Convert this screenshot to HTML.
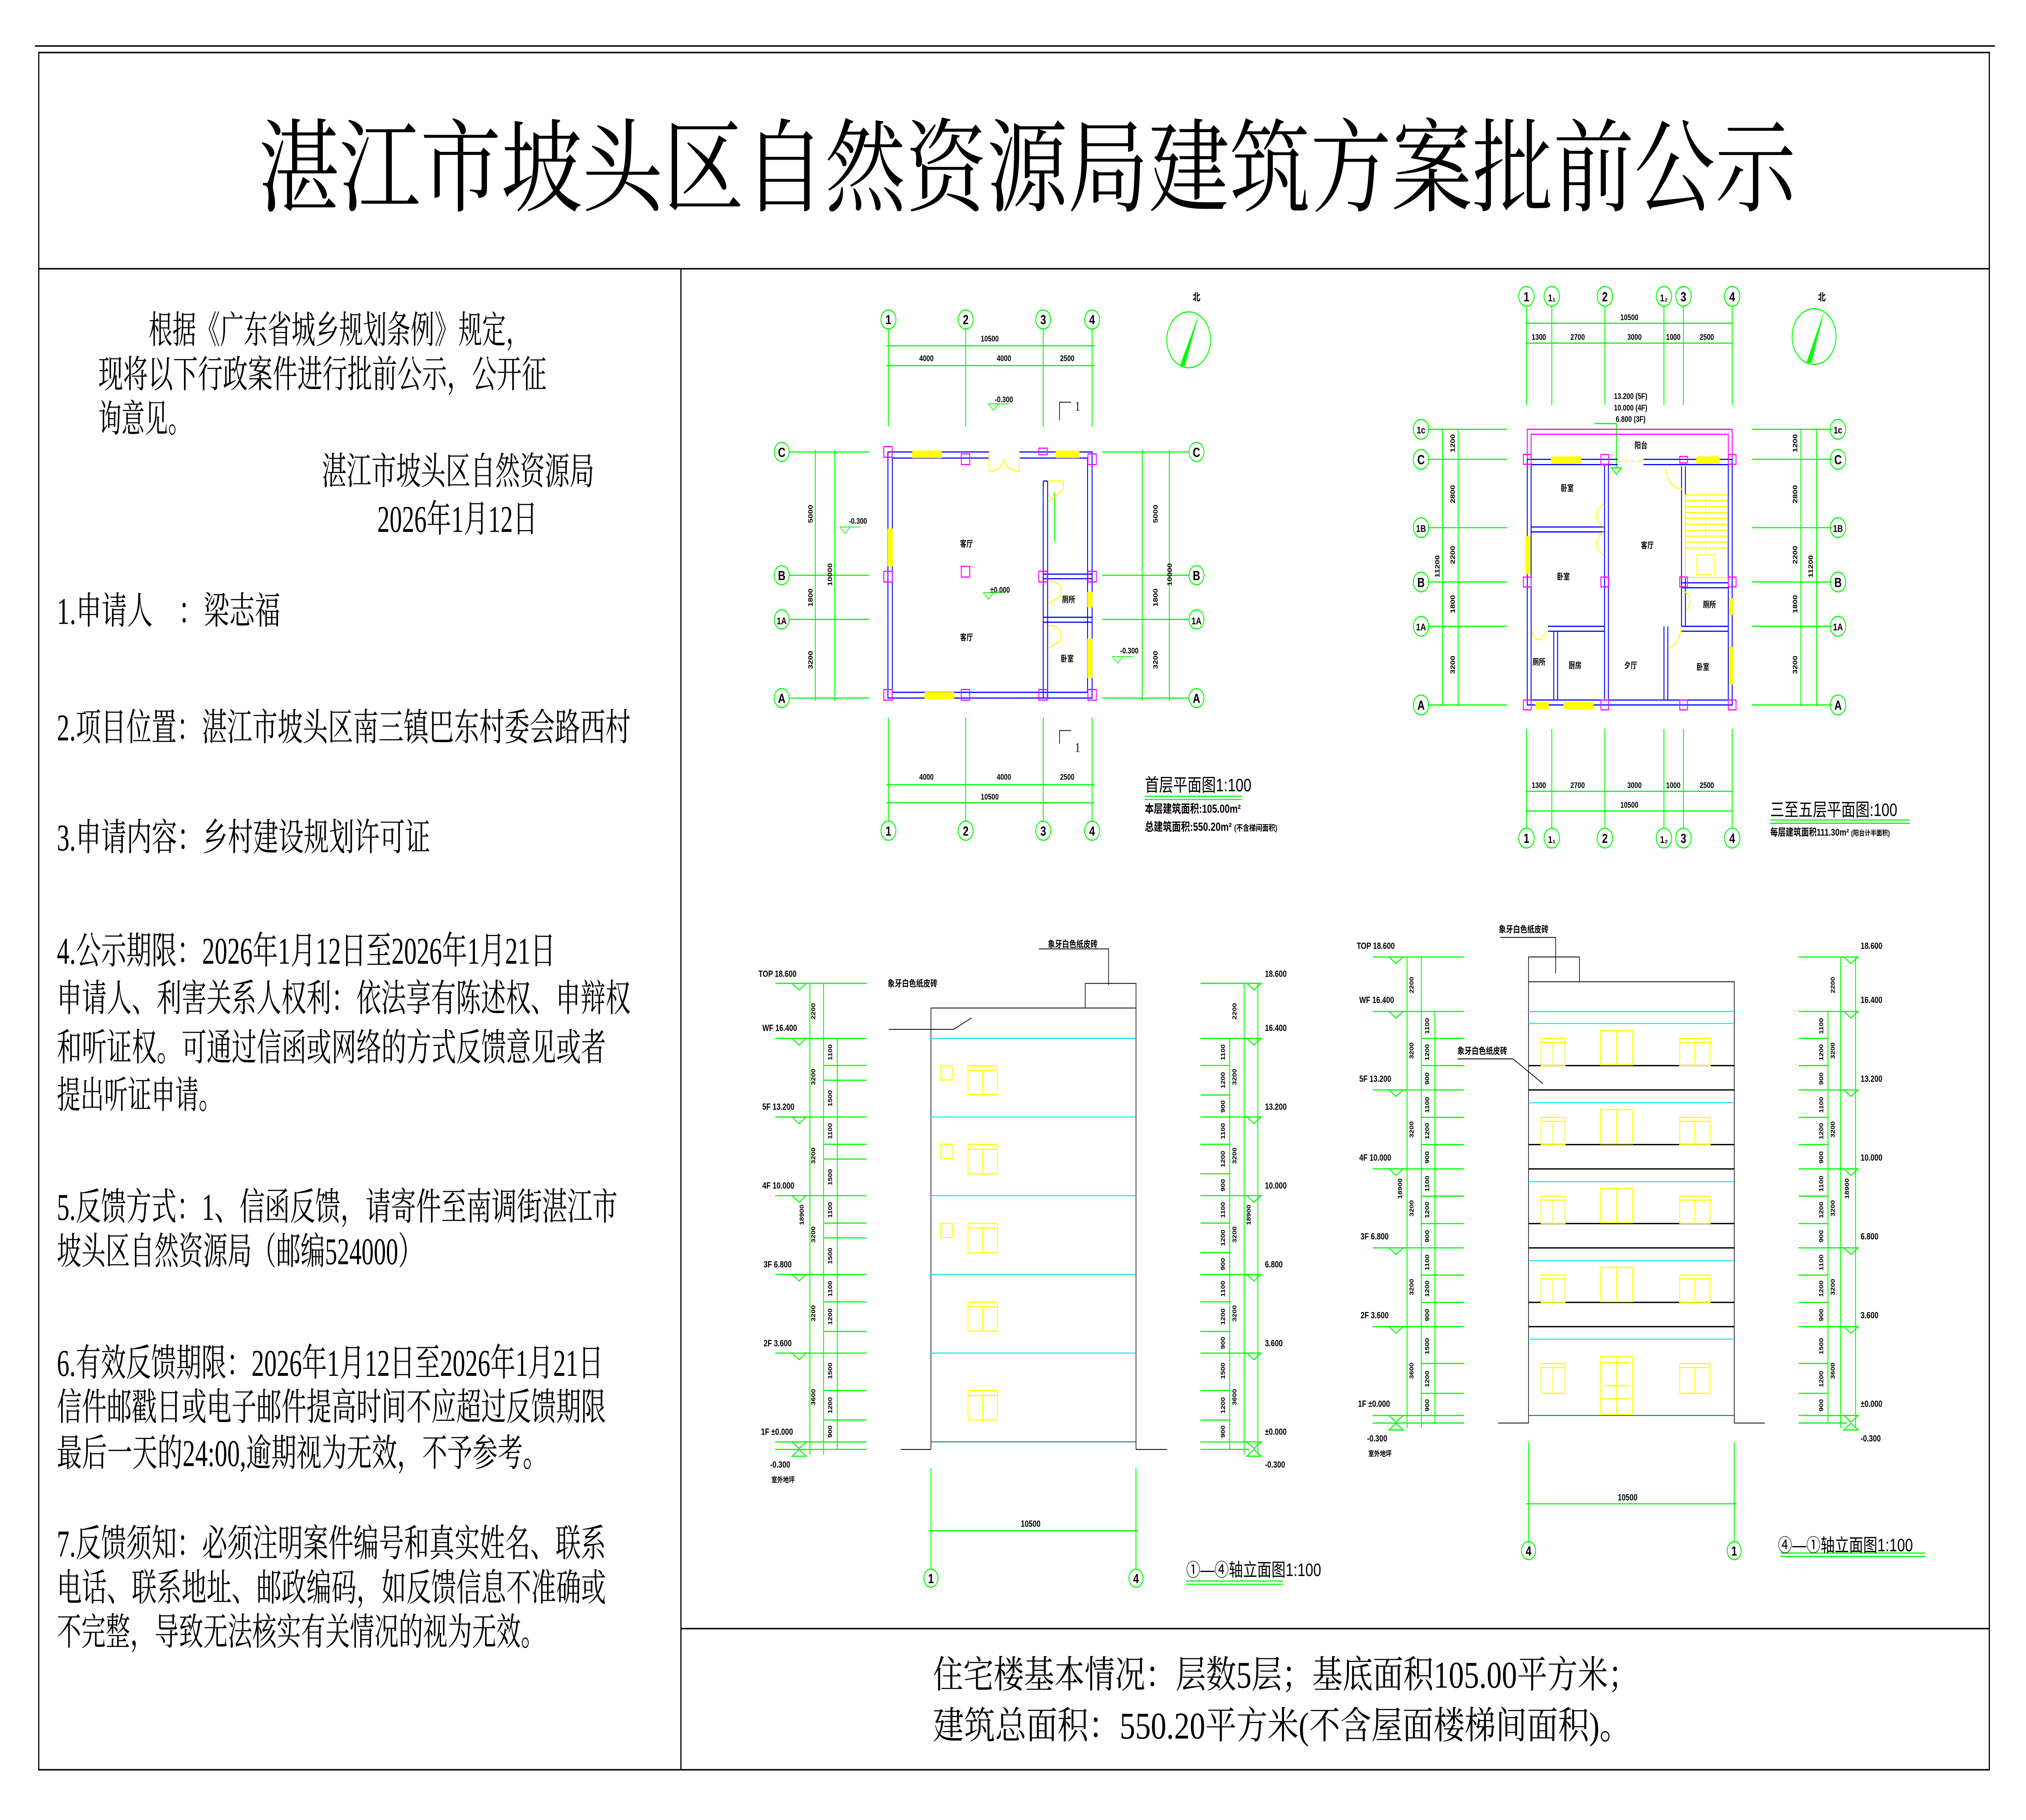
<!DOCTYPE html>
<html><head><meta charset="utf-8"><style>
html,body{margin:0;padding:0;background:#fff;width:100%;height:100%;overflow:hidden}
svg{display:block;width:100vw;height:100vh}
.s{font-family:"Liberation Serif","Noto Serif CJK SC",serif}
.h{font-family:"Liberation Sans","Noto Sans CJK SC",sans-serif}
.g{stroke:#00ff00;fill:none;stroke-width:0.7}
.b{stroke:#0000ff;fill:none;stroke-width:0.7}
.m{stroke:#ff00ff;fill:none;stroke-width:0.7}
.y{stroke:#ffff00;fill:none;stroke-width:0.7}
.yf{fill:#ffff00;stroke:none}
.c{stroke:#00e5ff;fill:none;stroke-width:0.6}
.k{stroke:#000;fill:none;stroke-width:0.5}
.t{font-family:"Liberation Sans","Noto Sans CJK SC",sans-serif;fill:#000;font-weight:bold}
</style></head><body>
<svg viewBox="0 0 1568 1108.6" preserveAspectRatio="none" xmlns="http://www.w3.org/2000/svg">
<rect x="0" y="0" width="1568" height="1109" fill="#fff"/>
<!-- frame -->
<line x1="27" y1="28" x2="1544" y2="28" stroke="#000" stroke-width="0.9"/>
<rect x="30" y="32" width="1509.6" height="1046" fill="none" stroke="#000" stroke-width="0.9"/>
<line x1="30" y1="163.7" x2="1539.6" y2="163.7" stroke="#000" stroke-width="0.9"/>
<line x1="527" y1="163.7" x2="527" y2="1078" stroke="#000" stroke-width="0.9"/>
<line x1="527" y1="992" x2="1539.6" y2="992" stroke="#000" stroke-width="0.9"/>

<!-- title -->
<text class="s" x="200" y="124" font-size="62" textLength="1190" lengthAdjust="spacingAndGlyphs">湛江市坡头区自然资源局建筑方案批前公示</text>

<!-- left text -->
<g class="s" font-size="23" fill="#000">
<text x="115" y="209" textLength="295" lengthAdjust="spacingAndGlyphs">根据《广东省城乡规划条例》规定，</text>
<text x="76" y="236" textLength="347" lengthAdjust="spacingAndGlyphs">现将以下行政案件进行批前公示，公开征</text>
<text x="76" y="263" textLength="72" lengthAdjust="spacingAndGlyphs">询意见。</text>
<text x="249" y="295" textLength="211" lengthAdjust="spacingAndGlyphs">湛江市坡头区自然资源局</text>
<text x="292" y="324" textLength="124" lengthAdjust="spacingAndGlyphs">2026年1月12日</text>
<text x="44" y="380" textLength="173" lengthAdjust="spacingAndGlyphs">1.申请人　：梁志福</text>
<text x="44" y="451" textLength="444" lengthAdjust="spacingAndGlyphs">2.项目位置：湛江市坡头区南三镇巴东村委会路西村</text>
<text x="44" y="518" textLength="289" lengthAdjust="spacingAndGlyphs">3.申请内容：乡村建设规划许可证</text>
<text x="44" y="587" textLength="386" lengthAdjust="spacingAndGlyphs">4.公示期限：2026年1月12日至2026年1月21日</text>
<text x="44" y="616" textLength="444" lengthAdjust="spacingAndGlyphs">申请人、利害关系人权利：依法享有陈述权、申辩权</text>
<text x="44" y="646" textLength="425" lengthAdjust="spacingAndGlyphs">和听证权。可通过信函或网络的方式反馈意见或者</text>
<text x="44" y="675" textLength="128" lengthAdjust="spacingAndGlyphs">提出听证申请。</text>
<text x="44" y="743" textLength="434" lengthAdjust="spacingAndGlyphs">5.反馈方式：1、信函反馈，请寄件至南调街湛江市</text>
<text x="44" y="770" textLength="283" lengthAdjust="spacingAndGlyphs">坡头区自然资源局（邮编524000）</text>
<text x="44" y="838" textLength="423" lengthAdjust="spacingAndGlyphs">6.有效反馈期限：2026年1月12日至2026年1月21日</text>
<text x="44" y="865" textLength="425" lengthAdjust="spacingAndGlyphs">信件邮戳日或电子邮件提高时间不应超过反馈期限</text>
<text x="44" y="893" textLength="380" lengthAdjust="spacingAndGlyphs">最后一天的24:00,逾期视为无效，不予参考。</text>
<text x="44" y="948" textLength="425" lengthAdjust="spacingAndGlyphs">7.反馈须知：必须注明案件编号和真实姓名、联系</text>
<text x="44" y="975" textLength="425" lengthAdjust="spacingAndGlyphs">电话、联系地址、邮政编码，如反馈信息不准确或</text>
<text x="44" y="1002" textLength="378" lengthAdjust="spacingAndGlyphs">不完整，导致无法核实有关情况的视为无效。</text>
</g>
<g class="s" font-size="23" fill="#000">
<text x="722" y="1028" textLength="546" lengthAdjust="spacingAndGlyphs">住宅楼基本情况：层数5层；基底面积105.00平方米；</text>
<text x="722" y="1059" textLength="540" lengthAdjust="spacingAndGlyphs">建筑总面积：550.20平方米(不含屋面楼梯间面积)。</text>
</g>

<!-- ============ PLAN 1 ============ -->
<g class="g">
 <line x1="687.6" y1="200" x2="687.6" y2="260"/><line x1="747.4" y1="200" x2="747.4" y2="260"/>
 <line x1="807.4" y1="200" x2="807.4" y2="260"/><line x1="845.2" y1="200" x2="845.2" y2="260"/>
 <line x1="686" y1="210.6" x2="847" y2="210.6"/><line x1="686" y1="222.7" x2="847" y2="222.7"/>
 <circle cx="687.6" cy="194.6" r="5.8"/><circle cx="747.4" cy="194.6" r="5.8"/><circle cx="807.4" cy="194.6" r="5.8"/><circle cx="845.2" cy="194.6" r="5.8"/>
 <line x1="687.6" y1="437" x2="687.6" y2="500"/><line x1="747.4" y1="437" x2="747.4" y2="500"/>
 <line x1="807.4" y1="437" x2="807.4" y2="500"/><line x1="845.2" y1="437" x2="845.2" y2="500"/>
 <line x1="686" y1="478" x2="847" y2="478"/><line x1="686" y1="489" x2="847" y2="489"/>
 <circle cx="687.6" cy="506" r="5.8"/><circle cx="747.4" cy="506" r="5.8"/><circle cx="807.4" cy="506" r="5.8"/><circle cx="845.2" cy="506" r="5.8"/>
 <line x1="611" y1="275.3" x2="672.6" y2="275.3"/><line x1="611" y1="350.4" x2="672.6" y2="350.4"/>
 <line x1="611" y1="377.3" x2="672.6" y2="377.3"/><line x1="611" y1="425.2" x2="672.6" y2="425.2"/>
 <line x1="631" y1="274" x2="631" y2="427"/><line x1="646" y1="274" x2="646" y2="427"/>
 <circle cx="605" cy="275.3" r="5.8"/><circle cx="605" cy="350.4" r="5.8"/><circle cx="605" cy="377.3" r="5.8"/><circle cx="605" cy="425.2" r="5.8"/>
 <line x1="853" y1="275.3" x2="920" y2="275.3"/><line x1="853" y1="350.4" x2="920" y2="350.4"/>
 <line x1="853" y1="377.3" x2="920" y2="377.3"/><line x1="853" y1="425.2" x2="920" y2="425.2"/>
 <line x1="884" y1="274" x2="884" y2="427"/><line x1="905" y1="274" x2="905" y2="427"/>
 <circle cx="926" cy="275.3" r="5.8"/><circle cx="926" cy="350.4" r="5.8"/><circle cx="926" cy="377.3" r="5.8"/><circle cx="926" cy="425.2" r="5.8"/>
 <line x1="816" y1="300" x2="816" y2="330"/>
</g>
<g class="t" font-size="8" text-anchor="middle" font-weight="normal">
 <text x="687.6" y="197.5">1</text><text x="747.4" y="197.5">2</text><text x="807.4" y="197.5">3</text><text x="845.2" y="197.5">4</text>
 <text x="687.6" y="509">1</text><text x="747.4" y="509">2</text><text x="807.4" y="509">3</text><text x="845.2" y="509">4</text>
 <text x="605" y="278.3">C</text><text x="605" y="353.4">B</text><text x="605" y="380.3" font-size="6">1A</text><text x="605" y="428.2">A</text>
 <text x="926" y="278.3">C</text><text x="926" y="353.4">B</text><text x="926" y="380.3" font-size="6">1A</text><text x="926" y="428.2">A</text>
</g>
<g class="t" font-size="5" text-anchor="middle">
 <text x="766" y="208">10500</text><text x="717" y="220">4000</text><text x="777" y="220">4000</text><text x="826" y="220">2500</text>
 <text x="717" y="475">4000</text><text x="777" y="475">4000</text><text x="826" y="475">2500</text><text x="766" y="487">10500</text>
 <text x="748" y="333">客厅</text><text x="748" y="390">客厅</text><text x="827" y="367">厕所</text><text x="826" y="403">卧室</text>
 <text x="774" y="361">±0.000</text><text x="777" y="245">-0.300</text><text x="664" y="319">-0.300</text><text x="874" y="398">-0.300</text>
</g>
<g class="t" font-size="5" text-anchor="middle">
 <text transform="translate(629,313) rotate(-90)">5000</text><text transform="translate(629,364) rotate(-90)">1800</text><text transform="translate(629,402) rotate(-90)">3200</text><text transform="translate(644,350) rotate(-90)">10000</text>
 <text transform="translate(896,313) rotate(-90)">5000</text><text transform="translate(896,364) rotate(-90)">1800</text><text transform="translate(896,402) rotate(-90)">3200</text><text transform="translate(907,350) rotate(-90)">10000</text>
</g>
<g class="k" stroke-width="0.6">
 <path d="M765,246 L773,246 L769,250 Z M769,246 L781,246" stroke="#00ff00"/>
 <path d="M650,321 L658,321 L654,325 Z M654,321 L666,321" stroke="#00ff00"/>
 <path d="M861,400 L869,400 L865,404 Z M865,400 L877,400" stroke="#00ff00"/>
 <path d="M761,361 L769,361 L765,365 Z M765,361 L777,361" stroke="#00ff00"/>
 <path d="M820,256 L820,245 L829,245"/><path d="M820,453 L820,445 L829,445"/>
</g>
<text class="s" x="832" y="250" font-size="8">1</text><text class="s" x="832" y="458" font-size="8">1</text>
<g class="b">
 <path d="M765.5,275.3 L687.2,275.3 L687.2,425.2 L845.2,425.2 L845.2,275.3 L789,275.3"/>
 <path d="M765.5,279 L690.6,279 L690.6,421.7 L841.7,421.7 L841.7,279 L789,279"/>
 <path d="M807.4,293 L807.4,425 M810.8,293 L810.8,425 M807.4,293 L810.8,293"/>
 <path d="M807.4,349.7 L845,349.7 M807.4,352.5 L845,352.5 M807.4,376 L845,376 M807.4,379 L845,379"/>
</g>
<g class="yf">
 <rect x="706" y="274.5" width="23" height="4.5"/><rect x="817" y="274.5" width="18.5" height="4.5"/>
 <rect x="687" y="322" width="4" height="23"/><rect x="715.5" y="421.5" width="23" height="4.5"/>
 <rect x="841.5" y="360.5" width="4" height="9.5"/><rect x="841.5" y="389" width="4" height="24"/>
</g>
<g class="y">
 <path d="M765.5,276 L765.5,287 Q775,287 777,280 Q779,287 789,287 L789,276"/>
 <path d="M811,354 Q823,354 821,363 L811,368"/><path d="M811,381 Q823,381 821,390 L811,395"/>
 <path d="M811,293 L823,293 L823,298 L811,306"/>
</g>
<g class="m" fill="#fff">
 <rect x="684" y="272" width="6.5" height="6.5"/><rect x="744" y="276.5" width="6.5" height="6.5"/><rect x="804" y="273" width="6.5" height="4"/><rect x="842" y="276.5" width="6.5" height="6.5"/>
 <rect x="684" y="348" width="6.5" height="6.5"/><rect x="744" y="345" width="6.5" height="6.5"/><rect x="804" y="348" width="6.5" height="6.5"/><rect x="842" y="348" width="6.5" height="6.5"/>
 <rect x="684" y="420" width="6.5" height="6.5"/><rect x="744" y="420" width="6.5" height="6.5"/><rect x="804" y="420" width="6.5" height="6.5"/><rect x="842" y="420" width="6.5" height="6.5"/>
</g>
<circle cx="920" cy="207" r="17" class="g" stroke-width="1"/>
<path d="M928,191 L913,223 L917,223 Z" fill="#00ff00"/>
<text class="t" x="926" y="183" font-size="6" text-anchor="middle">北</text>
<text class="h" x="886" y="482" font-size="11">首层平面图1:100</text>
<line x1="886" y1="485" x2="961" y2="485" class="g"/><line x1="886" y1="487" x2="961" y2="487" class="g"/>
<text class="t" x="886" y="495" font-size="7">本层建筑面积:105.00m²</text>
<text class="t" x="886" y="506" font-size="7">总建筑面积:550.20m² <tspan font-size="5">(不含梯间面积)</tspan></text>

<!-- ============ PLAN 2 ============ -->
<g class="g">
 <path d="M1181.4,186.5 V246.7 M1201,186.5 V246.7 M1242.1,186.5 V246.7 M1287.8,186.5 V246.7 M1302.9,186.5 V246.7 M1340.6,186.5 V246.7"/>
 <path d="M1181,196.9 H1341 M1181,209 H1341"/>
 <path d="M1181.4,444 V504.5 M1201,444 V504.5 M1242.1,444 V504.5 M1287.8,444 V504.5 M1302.9,444 V504.5 M1340.6,444 V504.5"/>
 <path d="M1181,482 H1341 M1181,494 H1341"/>
 <circle cx="1181.4" cy="180.5" r="6"/><circle cx="1201" cy="180.5" r="6"/><circle cx="1242.1" cy="180.5" r="6"/><circle cx="1287.8" cy="180.5" r="6"/><circle cx="1302.9" cy="180.5" r="6"/><circle cx="1340.6" cy="180.5" r="6"/>
 <circle cx="1181.4" cy="510.5" r="6"/><circle cx="1201" cy="510.5" r="6"/><circle cx="1242.1" cy="510.5" r="6"/><circle cx="1287.8" cy="510.5" r="6"/><circle cx="1302.9" cy="510.5" r="6"/><circle cx="1340.6" cy="510.5" r="6"/>
 <path d="M1105,261.5 H1166.3 M1105,279.8 H1166.3 M1105,321.4 H1166.3 M1105,354.5 H1166.3 M1105,381.5 H1166.3 M1105,429.4 H1166.3"/>
 <path d="M1116.4,261 V430 M1128.5,261 V430"/>
 <path d="M1355.8,261.5 H1418 M1355.8,279.8 H1418 M1355.8,321.4 H1418 M1355.8,354.5 H1418 M1355.8,381.5 H1418 M1355.8,429.4 H1418"/>
 <path d="M1393.8,261 V430 M1405.9,261 V430"/>
 <circle cx="1099.8" cy="261.5" r="6"/><circle cx="1099.8" cy="279.8" r="6"/><circle cx="1099.8" cy="321.4" r="6"/><circle cx="1099.8" cy="354.5" r="6"/><circle cx="1099.8" cy="381.5" r="6"/><circle cx="1099.8" cy="429.4" r="6"/>
 <circle cx="1422.5" cy="261.5" r="6"/><circle cx="1422.5" cy="279.8" r="6"/><circle cx="1422.5" cy="321.4" r="6"/><circle cx="1422.5" cy="354.5" r="6"/><circle cx="1422.5" cy="381.5" r="6"/><circle cx="1422.5" cy="429.4" r="6"/>
 <path d="M1234,258 H1251 M1251,258 V285 M1247,285 L1251,289 L1255,285 Z"/>
</g>
<g class="t" font-size="8" text-anchor="middle" font-weight="normal">
 <text x="1181.4" y="183.5">1</text><text x="1201" y="183.5" font-size="6">1₁</text><text x="1242.1" y="183.5">2</text><text x="1287.8" y="183.5" font-size="6">1₂</text><text x="1302.9" y="183.5">3</text><text x="1340.6" y="183.5">4</text>
 <text x="1181.4" y="513.5">1</text><text x="1201" y="513.5" font-size="6">1₁</text><text x="1242.1" y="513.5">2</text><text x="1287.8" y="513.5" font-size="6">1₂</text><text x="1302.9" y="513.5">3</text><text x="1340.6" y="513.5">4</text>
 <text x="1099.8" y="264" font-size="6">1c</text><text x="1099.8" y="282.8">C</text><text x="1099.8" y="324" font-size="6">1B</text><text x="1099.8" y="357.5">B</text><text x="1099.8" y="384" font-size="6">1A</text><text x="1099.8" y="432.4">A</text>
 <text x="1422.5" y="264" font-size="6">1c</text><text x="1422.5" y="282.8">C</text><text x="1422.5" y="324" font-size="6">1B</text><text x="1422.5" y="357.5">B</text><text x="1422.5" y="384" font-size="6">1A</text><text x="1422.5" y="432.4">A</text>
</g>
<g class="t" font-size="5" text-anchor="middle">
 <text x="1261" y="195">10500</text>
 <text x="1191" y="207">1300</text><text x="1221" y="207">2700</text><text x="1265" y="207">3000</text><text x="1295" y="207">1000</text><text x="1321" y="207">2500</text>
 <text x="1191" y="480">1300</text><text x="1221" y="480">2700</text><text x="1265" y="480">3000</text><text x="1295" y="480">1000</text><text x="1321" y="480">2500</text>
 <text x="1261" y="492">10500</text>
 <text x="1262" y="243">13.200 (5F)</text><text x="1262" y="250">10.000 (4F)</text><text x="1262" y="257">6.800 (3F)</text>
 <text x="1270" y="273">阳台</text><text x="1213" y="299">卧室</text><text x="1275" y="334">客厅</text><text x="1210" y="353">卧室</text>
 <text x="1323" y="370">厕所</text><text x="1191" y="405">厕所</text><text x="1219" y="407">厨房</text><text x="1262" y="407">夕厅</text><text x="1318" y="408">卧室</text>
 <text transform="translate(1126,270) rotate(-90)">1200</text><text transform="translate(1126,301) rotate(-90)">2800</text><text transform="translate(1126,338) rotate(-90)">2200</text><text transform="translate(1126,368) rotate(-90)">1800</text><text transform="translate(1126,405) rotate(-90)">3200</text><text transform="translate(1114,345) rotate(-90)">11200</text>
 <text transform="translate(1391,270) rotate(-90)">1200</text><text transform="translate(1391,301) rotate(-90)">2800</text><text transform="translate(1391,338) rotate(-90)">2200</text><text transform="translate(1391,368) rotate(-90)">1800</text><text transform="translate(1391,405) rotate(-90)">3200</text><text transform="translate(1403,345) rotate(-90)">11200</text>
</g>
<g class="m">
 <path d="M1182,279.8 V261.5 H1340.6 V279.8 M1185,279.8 V264.5 H1337.6 V279.8"/>
</g>
<g class="b">
 <path d="M1252,279.8 H1182 V429.4 H1340.6 V279.8 H1272"/>
 <path d="M1252,283 H1185 V426.4 H1337.6 V283 H1272"/>
 <path d="M1241.8,283 V426 M1244.8,283 V426"/>
 <path d="M1185,321 H1241.8 M1185,324 H1241.8"/>
 <path d="M1198,381.5 H1241.8 M1198,384.5 H1241.8 M1202.5,384.5 V426 M1205.5,384.5 V426"/>
 <path d="M1287.8,381.5 V426 M1290.8,381.5 V426"/>
 <path d="M1301.4,284 V381.5 M1304.4,284 V381.5 M1301.4,355 H1337.6 M1301.4,358 H1337.6 M1301.4,381.5 H1337.6 M1301.4,384.5 H1337.6"/>
</g>
<g class="yf">
 <rect x="1200.4" y="278" width="23.3" height="4.5"/><rect x="1312.8" y="278" width="18.2" height="4.5"/>
 <rect x="1180.5" y="326.6" width="4" height="23"/><rect x="1188.3" y="427.5" width="10.3" height="4.5"/><rect x="1210" y="427.5" width="23.4" height="4.5"/>
 <rect x="1338" y="364.3" width="4" height="10.3"/><rect x="1338" y="394" width="4" height="23"/>
</g>
<g class="y">
 <rect x="1304.4" y="301.5" width="32.6" height="50.3"/>
 <path d="M1304.4,305 H1337 M1304.4,308.6 H1337 M1304.4,312.2 H1337 M1304.4,315.8 H1337 M1304.4,319.4 H1337 M1304.4,323 H1337 M1304.4,326.6 H1337 M1304.4,330.2 H1337 M1304.4,333.8 H1337"/>
 <path d="M1320,301 V338 M1313,338 H1327 V350 H1313 Z" stroke-width="0.5"/>
 <path d="M1252,281 H1272" stroke-dasharray="3 2"/>
 <path d="M1289,284 Q1290,297 1302,298"/>
 <path d="M1241,307 Q1230,314 1241,321 M1241,324 Q1230,331 1241,338"/>
 <path d="M1186,385 Q1190,395 1197,384"/>
 <path d="M1291,395 Q1300,392 1301,383"/>
 <path d="M1302,360 Q1311,362 1306,372"/>
</g>
<g class="m" fill="#fff">
 <rect x="1179" y="276.8" width="6" height="6"/><rect x="1239" y="276.8" width="6" height="6"/><rect x="1300" y="278" width="6" height="4"/><rect x="1337.6" y="276.8" width="6" height="6"/>
 <rect x="1179" y="351.5" width="6" height="6"/><rect x="1239" y="351.5" width="6" height="6"/><rect x="1300" y="351.5" width="6" height="6"/><rect x="1337.6" y="351.5" width="6" height="6"/>
 <rect x="1179" y="426.4" width="6" height="6"/><rect x="1239" y="426.4" width="6" height="6"/><rect x="1300" y="426.4" width="6" height="6"/><rect x="1337.6" y="426.4" width="6" height="6"/>
</g>
<circle cx="1404" cy="205" r="17" class="g" stroke-width="1"/>
<path d="M1412,189 L1398,221 L1402,221 Z" fill="#00ff00"/>
<text class="t" x="1410" y="183" font-size="6" text-anchor="middle">北</text>
<text class="h" x="1370" y="497" font-size="11">三至五层平面图:100</text>
<line x1="1370" y1="499.5" x2="1478" y2="499.5" class="g"/><line x1="1370" y1="501.5" x2="1478" y2="501.5" class="g"/>
<text class="t" x="1370" y="509" font-size="6">每层建筑面积111.30m² <tspan font-size="4.5">(阳台计半面积)</tspan></text>

<!-- ============ ELEVATION 1 ============ -->
<g class="k" stroke-width="0.6">
 <path d="M720.5,882.9 V614 H879.2 V882.9 M839.9,614 V599 H879.2 V614"/>
 <path d="M697.2,882.9 H720.5 M879.2,882.9 H903.3"/>
 <path d="M688,627 H738 L752,620"/><path d="M804,578 H858 V600"/>
</g>
<g class="c"><path d="M720.5,632.5 H879.2 M720.5,680.4 H879.2 M720.5,728.3 H879.2 M720.5,776.3 H879.2 M720.5,824.2 H879.2"/></g>
<line x1="720.5" y1="878.3" x2="879.2" y2="878.3" stroke="#066" stroke-width="0.5"/>
<g class="y" stroke-width="1.2">
 <rect x="749.2" y="649.3" width="22.7" height="17.4"/><rect x="749.2" y="697" width="22.7" height="18"/><rect x="749.2" y="745.2" width="22.7" height="17.9"/><rect x="749.2" y="793.1" width="22.7" height="17.7"/><rect x="749.2" y="847" width="22.7" height="17.9"/>
 <path d="M760.5,652 V666.7 M749.2,652 H771.9 M760.5,700 V715 M749.2,700 H771.9 M760.5,748 V763 M749.2,748 H771.9 M760.5,796 V810.8 M749.2,796 H771.9 M760.5,850 V864.9 M749.2,850 H771.9"/>
 <rect x="728" y="649.3" width="9" height="8.6"/><rect x="728" y="697" width="9" height="8.6"/><rect x="728" y="745.2" width="9" height="8.6"/>
</g>
<g class="g">
 <path d="M600,599 H670.6 M600,632.5 H670.6 M600,680.4 H670.6 M600,728.3 H670.6 M600,776.3 H670.6 M600,824.2 H670.6 M600,878.3 H670.6 M600,882.9 H670.6"/>
 <path d="M637,649 H670.6 M637,658 H670.6 M637,697 H670.6 M637,706 H670.6 M637,745 H670.6 M637,754 H670.6 M637,793 H670.6 M637,811 H670.6 M637,847 H670.6 M637,865 H670.6"/>
 <path d="M626.8,599 V886 M637.4,599 V886 M648,632.5 V883"/>
 <path d="M929,599 H966.8 M929,632.5 H966.8 M929,680.4 H966.8 M929,728.3 H966.8 M929,776.3 H966.8 M929,824.2 H966.8 M929,878.3 H966.8 M929,882.9 H966.8"/>
 <path d="M929,649 H951.7 M929,667 H951.7 M929,697 H951.7 M929,715 H951.7 M929,745 H951.7 M929,763 H951.7 M929,793 H951.7 M929,811 H951.7 M929,847 H951.7 M929,865 H951.7"/>
 <path d="M951.7,632.5 V883 M962.9,599 V886 M973.5,599 V886"/>
 <path d="M720.5,894.4 V956 M879.2,894.4 V956 M719,932.4 H881"/>
 <circle cx="720.5" cy="961.3" r="5.5"/><circle cx="879.2" cy="961.3" r="5.5"/>
 <path d="M613,599 L624,599 L618.5,603 Z M613,632.5 L624,632.5 L618.5,636.5 Z M613,680.4 L624,680.4 L618.5,684.4 Z M613,728.3 L624,728.3 L618.5,732.3 Z M613,776.3 L624,776.3 L618.5,780.3 Z M613,824.2 L624,824.2 L618.5,828.2 Z M613,878.3 L624,878.3 L618.5,882.3 Z M613,887 L624,887 L618.5,883 Z"/>
 <path d="M965,599 L976,599 L970.5,603 Z M965,632.5 L976,632.5 L970.5,636.5 Z M965,680.4 L976,680.4 L970.5,684.4 Z M965,728.3 L976,728.3 L970.5,732.3 Z M965,776.3 L976,776.3 L970.5,780.3 Z M965,824.2 L976,824.2 L970.5,828.2 Z M965,878.3 L976,878.3 L970.5,882.3 Z M965,887 L976,887 L970.5,883 Z"/>
 <path d="M918,963 H993 M918,965 H993"/>
</g>
<g class="t" font-size="5.5" font-weight="normal">
 <text x="587" y="595">TOP 18.600</text><text x="590" y="628">WF 16.400</text><text x="590" y="676">5F 13.200</text><text x="590" y="724">4F 10.000</text><text x="591" y="772">3F 6.800</text><text x="591" y="820">2F 3.600</text><text x="589" y="874">1F ±0.000</text><text x="596" y="894">-0.300</text><text x="597" y="903" font-size="4.5">室外地坪</text>
 <text x="979" y="595">18.600</text><text x="979" y="628">16.400</text><text x="979" y="676">13.200</text><text x="979" y="724">10.000</text><text x="979" y="772">6.800</text><text x="979" y="820">3.600</text><text x="979" y="874">±0.000</text><text x="979" y="894">-0.300</text>
 <text x="790" y="930">10500</text>
 <text x="687" y="601" font-weight="bold">象牙白色纸皮砖</text><text x="811" y="577" font-weight="bold">象牙白色纸皮砖</text>
</g>
<g class="t" font-size="4.5" font-weight="normal" text-anchor="middle">
 <text transform="translate(631,616) rotate(-90)">2200</text><text transform="translate(631,656) rotate(-90)">3200</text><text transform="translate(631,704) rotate(-90)">3200</text><text transform="translate(631,752) rotate(-90)">3200</text><text transform="translate(631,800) rotate(-90)">3200</text><text transform="translate(631,851) rotate(-90)">3600</text><text transform="translate(622,740) rotate(-90)">18900</text>
 <text transform="translate(957,616) rotate(-90)">2200</text><text transform="translate(957,656) rotate(-90)">3200</text><text transform="translate(957,704) rotate(-90)">3200</text><text transform="translate(957,752) rotate(-90)">3200</text><text transform="translate(957,800) rotate(-90)">3200</text><text transform="translate(957,851) rotate(-90)">3600</text><text transform="translate(968,740) rotate(-90)">18900</text>
 <text transform="translate(644,641) rotate(-90)">1100</text><text transform="translate(644,669) rotate(-90)">1500</text><text transform="translate(644,689) rotate(-90)">1100</text><text transform="translate(644,717) rotate(-90)">1500</text><text transform="translate(644,737) rotate(-90)">1100</text><text transform="translate(644,765) rotate(-90)">1500</text><text transform="translate(644,785) rotate(-90)">1100</text><text transform="translate(644,802) rotate(-90)">1200</text><text transform="translate(644,835) rotate(-90)">1500</text><text transform="translate(644,856) rotate(-90)">1200</text><text transform="translate(644,872) rotate(-90)">900</text>
 <text transform="translate(948,641) rotate(-90)">1100</text><text transform="translate(948,658) rotate(-90)">1200</text><text transform="translate(948,674) rotate(-90)">900</text><text transform="translate(948,689) rotate(-90)">1100</text><text transform="translate(948,706) rotate(-90)">1200</text><text transform="translate(948,722) rotate(-90)">900</text><text transform="translate(948,737) rotate(-90)">1100</text><text transform="translate(948,754) rotate(-90)">1200</text><text transform="translate(948,770) rotate(-90)">900</text><text transform="translate(948,785) rotate(-90)">1100</text><text transform="translate(948,802) rotate(-90)">1200</text><text transform="translate(948,818) rotate(-90)">900</text><text transform="translate(948,835) rotate(-90)">1500</text><text transform="translate(948,856) rotate(-90)">1200</text><text transform="translate(948,872) rotate(-90)">900</text>
</g>
<g class="t" font-size="8" text-anchor="middle" font-weight="normal"><text x="720.5" y="964.3">1</text><text x="879.2" y="964.3">4</text></g>
<text class="h" x="918" y="960" font-size="11">①—④轴立面图1:100</text>

<!-- ============ ELEVATION 2 ============ -->
<g class="k" stroke-width="0.6">
 <path d="M1183,866.8 V598 H1342.2 V866.8 M1183,598 V582.9 H1222.4 V598"/>
 <path d="M1159.5,866.8 H1183 M1342.2,866.8 H1365.7"/>
 <path d="M1161,571 H1204 V593"/><path d="M1128,645 H1171 L1194,660"/>
</g>
<g stroke="#000" stroke-width="0.8">
 <path d="M1183,649.1 H1342.2 M1183,663.9 H1342.2 M1183,697.2 H1342.2 M1183,712 H1342.2 M1183,745.3 H1342.2 M1183,760.1 H1342.2 M1183,793.3 H1342.2 M1183,808.1 H1342.2"/>
</g>
<g class="c"><path d="M1183,616.1 H1342.2 M1183,623.4 H1342.2 M1183,671.7 H1342.2 M1183,719.8 H1342.2 M1183,767.9 H1342.2 M1183,815.7 H1342.2"/></g>
<line x1="1183" y1="862.2" x2="1342.2" y2="862.2" stroke="#066" stroke-width="0.5"/>
<g class="y" stroke-width="1.1">
 <rect x="1192.7" y="632.5" width="18.6" height="16.6"/><rect x="1300" y="632.5" width="23.5" height="16.6"/><rect x="1238.6" y="627.8" width="24.8" height="20.8"/>
 <rect x="1192.7" y="680.6" width="18.6" height="16.6"/><rect x="1300" y="680.6" width="23.5" height="16.6"/><rect x="1238.6" y="675.9" width="24.8" height="20.8"/>
 <rect x="1192.7" y="728.6" width="18.6" height="16.6"/><rect x="1300" y="728.6" width="23.5" height="16.6"/><rect x="1238.6" y="723.9" width="24.8" height="20.8"/>
 <rect x="1192.7" y="776.7" width="18.6" height="16.6"/><rect x="1300" y="776.7" width="23.5" height="16.6"/><rect x="1238.6" y="772" width="24.8" height="20.8"/>
 <rect x="1192.7" y="830.5" width="18.6" height="18.2"/><rect x="1300" y="830.5" width="23.5" height="18.2"/><rect x="1238.6" y="826.3" width="24.8" height="35.3"/>
 <path d="M1202,635 V649 M1192.7,635 H1211.3 M1311.7,635 V649 M1300,635 H1323.5 M1251,628 V648.6"/>
 <path d="M1202,683 V697 M1192.7,683 H1211.3 M1311.7,683 V697 M1300,683 H1323.5 M1251,676 V696.7"/>
 <path d="M1202,731 V745 M1192.7,731 H1211.3 M1311.7,731 V745 M1300,731 H1323.5 M1251,724 V744.7"/>
 <path d="M1202,779 V793 M1192.7,779 H1211.3 M1311.7,779 V793 M1300,779 H1323.5 M1251,772 V792.8"/>
 <path d="M1202,833 V848.7 M1192.7,833 H1211.3 M1311.7,833 V848.7 M1300,833 H1323.5 M1251,826.3 V861.6 M1241,830 H1261 M1241,844 H1261 M1241,852 H1261"/>
</g>
<g class="g">
 <path d="M1062.4,582.9 H1133.1 M1062.4,616.1 H1133.1 M1062.4,663.9 H1133.1 M1062.4,712 H1133.1 M1062.4,760.1 H1133.1 M1062.4,808.1 H1133.1 M1062.4,862.2 H1133.1 M1062.4,866.8 H1133.1"/>
 <path d="M1100,632.5 H1133.1 M1100,649.1 H1133.1 M1100,680.6 H1133.1 M1100,697.2 H1133.1 M1100,728.6 H1133.1 M1100,745.3 H1133.1 M1100,776.7 H1133.1 M1100,793.3 H1133.1 M1100,830.5 H1133.1 M1100,848.7 H1133.1"/>
 <path d="M1089,582.9 V870 M1100,582.9 V870 M1110.5,616.1 V867"/>
 <path d="M1392,582.9 H1429.3 M1392,616.1 H1429.3 M1392,663.9 H1429.3 M1392,712 H1429.3 M1392,760.1 H1429.3 M1392,808.1 H1429.3 M1392,862.2 H1429.3 M1392,866.8 H1429.3"/>
 <path d="M1392,632.5 H1414.7 M1392,649.1 H1414.7 M1392,680.6 H1414.7 M1392,697.2 H1414.7 M1392,728.6 H1414.7 M1392,745.3 H1414.7 M1392,776.7 H1414.7 M1392,793.3 H1414.7 M1392,830.5 H1414.7 M1392,848.7 H1414.7"/>
 <path d="M1414.7,616.1 V867 M1424.6,582.9 V870 M1436.1,582.9 V870"/>
 <path d="M1183,878.5 V940 M1342.2,878.5 V940 M1181,916 H1344"/>
 <circle cx="1183" cy="944.5" r="5.5"/><circle cx="1342.2" cy="944.5" r="5.5"/>
 <path d="M1075,582.9 L1086,582.9 L1080.5,586.9 Z M1075,616.1 L1086,616.1 L1080.5,620.1 Z M1075,663.9 L1086,663.9 L1080.5,667.9 Z M1075,712 L1086,712 L1080.5,716 Z M1075,760.1 L1086,760.1 L1080.5,764.1 Z M1075,808.1 L1086,808.1 L1080.5,812.1 Z M1075,862.2 L1086,862.2 L1080.5,866.2 Z M1075,871 L1086,871 L1080.5,867 Z"/>
 <path d="M1427,582.9 L1438,582.9 L1432.5,586.9 Z M1427,616.1 L1438,616.1 L1432.5,620.1 Z M1427,663.9 L1438,663.9 L1432.5,667.9 Z M1427,712 L1438,712 L1432.5,716 Z M1427,760.1 L1438,760.1 L1432.5,764.1 Z M1427,808.1 L1438,808.1 L1432.5,812.1 Z M1427,862.2 L1438,862.2 L1432.5,866.2 Z M1427,871 L1438,871 L1432.5,867 Z"/>
 <path d="M1378,946 H1490 M1378,948 H1490"/>
</g>
<g class="t" font-size="5.5" font-weight="normal">
 <text x="1050" y="578">TOP 18.600</text><text x="1052" y="611">WF 16.400</text><text x="1052" y="659">5F 13.200</text><text x="1052" y="707">4F 10.000</text><text x="1053" y="755">3F 6.800</text><text x="1053" y="803">2F 3.600</text><text x="1051" y="857">1F ±0.000</text><text x="1058" y="878">-0.300</text><text x="1059" y="887" font-size="4.5">室外地坪</text>
 <text x="1440" y="578">18.600</text><text x="1440" y="611">16.400</text><text x="1440" y="659">13.200</text><text x="1440" y="707">10.000</text><text x="1440" y="755">6.800</text><text x="1440" y="803">3.600</text><text x="1440" y="857">±0.000</text><text x="1440" y="878">-0.300</text>
 <text x="1252" y="914">10500</text>
 <text x="1160" y="568" font-weight="bold">象牙白色纸皮砖</text><text x="1128" y="642" font-weight="bold">象牙白色纸皮砖</text>
</g>
<g class="t" font-size="4.5" font-weight="normal" text-anchor="middle">
 <text transform="translate(1094,600) rotate(-90)">2200</text><text transform="translate(1094,640) rotate(-90)">3200</text><text transform="translate(1094,688) rotate(-90)">3200</text><text transform="translate(1094,736) rotate(-90)">3200</text><text transform="translate(1094,784) rotate(-90)">3200</text><text transform="translate(1094,835) rotate(-90)">3600</text><text transform="translate(1085,724) rotate(-90)">18900</text>
 <text transform="translate(1420,600) rotate(-90)">2200</text><text transform="translate(1420,640) rotate(-90)">3200</text><text transform="translate(1420,688) rotate(-90)">3200</text><text transform="translate(1420,736) rotate(-90)">3200</text><text transform="translate(1420,784) rotate(-90)">3200</text><text transform="translate(1420,835) rotate(-90)">3600</text><text transform="translate(1431,724) rotate(-90)">18900</text>
 <text transform="translate(1106,625) rotate(-90)">1100</text><text transform="translate(1106,641) rotate(-90)">1200</text><text transform="translate(1106,657) rotate(-90)">900</text><text transform="translate(1106,673) rotate(-90)">1100</text><text transform="translate(1106,689) rotate(-90)">1200</text><text transform="translate(1106,705) rotate(-90)">900</text><text transform="translate(1106,721) rotate(-90)">1100</text><text transform="translate(1106,737) rotate(-90)">1200</text><text transform="translate(1106,753) rotate(-90)">900</text><text transform="translate(1106,769) rotate(-90)">1100</text><text transform="translate(1106,785) rotate(-90)">1200</text><text transform="translate(1106,801) rotate(-90)">900</text><text transform="translate(1106,820) rotate(-90)">1500</text><text transform="translate(1106,840) rotate(-90)">1200</text><text transform="translate(1106,856) rotate(-90)">900</text>
 <text transform="translate(1411,625) rotate(-90)">1100</text><text transform="translate(1411,641) rotate(-90)">1200</text><text transform="translate(1411,657) rotate(-90)">900</text><text transform="translate(1411,673) rotate(-90)">1100</text><text transform="translate(1411,689) rotate(-90)">1200</text><text transform="translate(1411,705) rotate(-90)">900</text><text transform="translate(1411,721) rotate(-90)">1100</text><text transform="translate(1411,737) rotate(-90)">1200</text><text transform="translate(1411,753) rotate(-90)">900</text><text transform="translate(1411,769) rotate(-90)">1100</text><text transform="translate(1411,785) rotate(-90)">1200</text><text transform="translate(1411,801) rotate(-90)">900</text><text transform="translate(1411,820) rotate(-90)">1500</text><text transform="translate(1411,840) rotate(-90)">1200</text><text transform="translate(1411,856) rotate(-90)">900</text>
</g>
<g class="t" font-size="8" text-anchor="middle" font-weight="normal"><text x="1183" y="947.5">4</text><text x="1342.2" y="947.5">1</text></g>
<text class="h" x="1376" y="945" font-size="11">④—①轴立面图1:100</text>
</svg>
</body></html>
